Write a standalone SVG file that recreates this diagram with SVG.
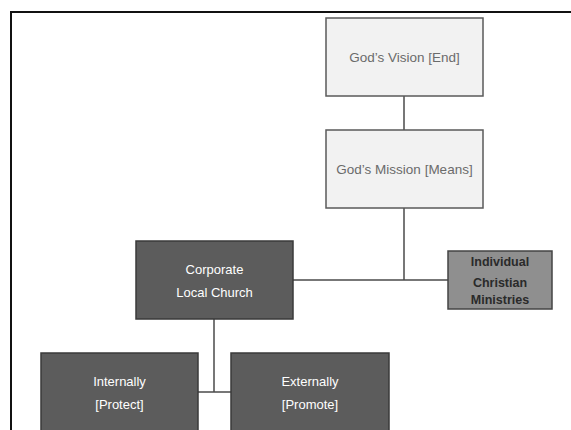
<svg xmlns="http://www.w3.org/2000/svg" width="571" height="430" viewBox="0 0 571 430">
<style>
.light{fill:#f2f2f2;stroke:#5a5a5a;stroke-width:1.5}
.dark{fill:#5c5c5c;stroke:#3a3a3a;stroke-width:1.5}
.mid{fill:#8f8f8f;stroke:#444;stroke-width:1.5}
.t{font-family:"Liberation Sans",Arial,sans-serif;font-size:13px;text-anchor:middle}
.tl{fill:#6b6b6b;font-size:13.5px}
.tw{fill:#ffffff}
.td{fill:#2a2a2a;font-weight:bold;font-size:12.5px}
.c{stroke:#4a4a4a;stroke-width:1.5;fill:none}
</style>
<rect x="0" y="0" width="571" height="430" fill="#ffffff"/>
<g id="frame">
<line x1="10" y1="12" x2="571" y2="12" stroke="#111" stroke-width="2"/>
<line x1="11" y1="11" x2="11" y2="430" stroke="#111" stroke-width="2"/>
</g>
<g id="connectors">
<line class="c" x1="404" y1="96" x2="404" y2="130"/>
<line class="c" x1="404" y1="208" x2="404" y2="280"/>
<line class="c" x1="293" y1="280" x2="448" y2="280"/>
<line class="c" x1="214" y1="319" x2="214" y2="392"/>
<line class="c" x1="198" y1="392" x2="231" y2="392"/>
</g>
<g id="vision">
<rect class="light" x="326" y="18" width="157" height="78"/>
<text class="t tl" x="404.5" y="62">God’s Vision [End]</text>
</g>
<g id="mission">
<rect class="light" x="326" y="130" width="157" height="78"/>
<text class="t tl" x="404.5" y="174">God’s Mission [Means]</text>
</g>
<g id="corporate">
<rect class="dark" x="136" y="241" width="157" height="78"/>
<text class="t tw" x="214.5" y="274">Corporate</text>
<text class="t tw" x="214.5" y="297">Local Church</text>
</g>
<g id="individual">
<rect class="mid" x="448" y="251" width="104" height="58"/>
<text class="t td" x="500" y="266">Individual</text>
<text class="t td" x="500" y="287">Christian</text>
<text class="t td" x="500" y="304">Ministries</text>
</g>
<g id="internally">
<rect class="dark" x="41" y="353" width="157" height="80"/>
<text class="t tw" x="119.5" y="386">Internally</text>
<text class="t tw" x="119.5" y="409">[Protect]</text>
</g>
<g id="externally">
<rect class="dark" x="231" y="353" width="158" height="80"/>
<text class="t tw" x="310" y="386">Externally</text>
<text class="t tw" x="310" y="409">[Promote]</text>
</g>
</svg>
